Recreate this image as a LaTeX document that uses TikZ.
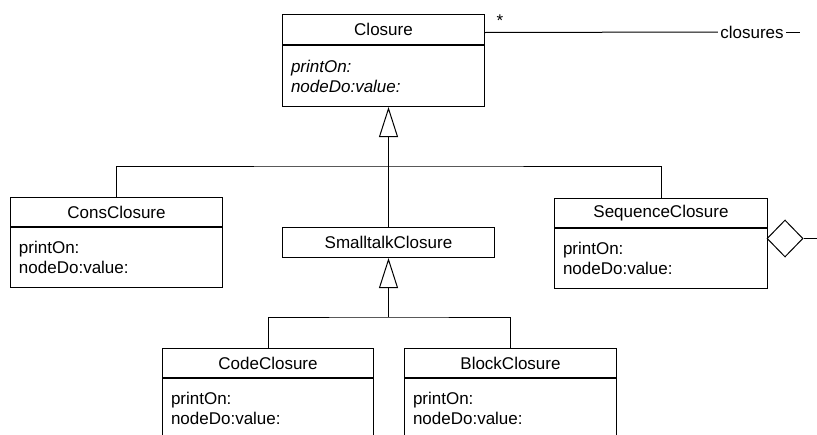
\documentclass[tikz,border=0pt]{standalone}
\usepackage{fontspec}
\setmainfont{Liberation Sans}
\usetikzlibrary{arrows.meta,shapes.geometric}

\begin{document}
\begin{tikzpicture}[x=1pt,y=-1pt,line width=1pt,
  every node/.style={font=\fontsize{17}{20}\selectfont},
  classhead/.style={draw,rectangle,inner sep=0pt,anchor=north west,minimum height=#1},
  classbody/.style={draw,rectangle,anchor=north,align=left,inner xsep=8.5pt,inner ysep=0pt,minimum height=#1},
  inherit/.style={-{Triangle[open,length=30pt,width=19pt]}}]
\useasboundingbox (0,0) rectangle (817,434);
\clip (0,0) rectangle (817,434);

% abstract superclass
\node[classhead=30pt,minimum width=202pt] (closureH) at (282,14) {Closure};
\node[classbody=61pt,text width=185pt] (closureB) at (closureH.south)
  {\itshape printOn:\\\itshape nodeDo:value:};

% first level subclasses
\node[classhead=29pt,minimum width=212pt] (consH) at (10,197) {ConsClosure};
\node[classbody=60pt,text width=195pt] (consB) at (consH.south)
  {printOn:\\nodeDo:value:};

\node[classhead=30pt,minimum width=212pt] (stH) at (282,227) {SmalltalkClosure};

\node[classhead=29pt,minimum width=213pt] (seqH) at (554,198) {SequenceClosure};
\node[classbody=60pt,text width=196pt] (seqB) at (seqH.south)
  {printOn:\\nodeDo:value:};

% second level subclasses
\node[classhead=29pt,minimum width=211pt] (codeH) at (162,348) {CodeClosure};
\node[classbody=60pt,text width=194pt] (codeB) at (codeH.south)
  {printOn:\\nodeDo:value:};

\node[classhead=29pt,minimum width=212pt] (blockH) at (404,348) {BlockClosure};
\node[classbody=60pt,text width=195pt] (blockB) at (blockH.south)
  {printOn:\\nodeDo:value:};

% generalization trees
\path (0,166) coordinate (lvl1) (0,317) coordinate (lvl2);
\coordinate (j1) at (stH.north |- lvl1);
\coordinate (j2) at (stH.south |- lvl2);
\draw[inherit] (j1) -- (closureB.south -| j1);
\draw (consH.north) |- (j1) -| (seqH.north);
\draw (j1) -- (stH.north);
\draw[inherit] (j2) -- (stH.south);
\draw (codeH.north) |- (j2) -| (blockH.north);

% association to the composite
\coordinate (a0) at ([yshift=-3pt]closureH.east);
\node[inner sep=2pt] (lbl) at (752,32) {closures};
\coordinate (a1) at (800,32);
\node[inner sep=0pt] (mult) at (500,21) {*};
\draw (a0) -- (lbl.west);
\draw (lbl.east) -- (a1);

% aggregation diamond
\node[diamond,draw,aspect=1,inner sep=0pt,minimum width=36pt,minimum height=37pt] (dia) at (785,238.5) {};
\coordinate (d1) at (817,238.5);
\draw (dia.east) -- (d1);
\end{tikzpicture}
\end{document}
